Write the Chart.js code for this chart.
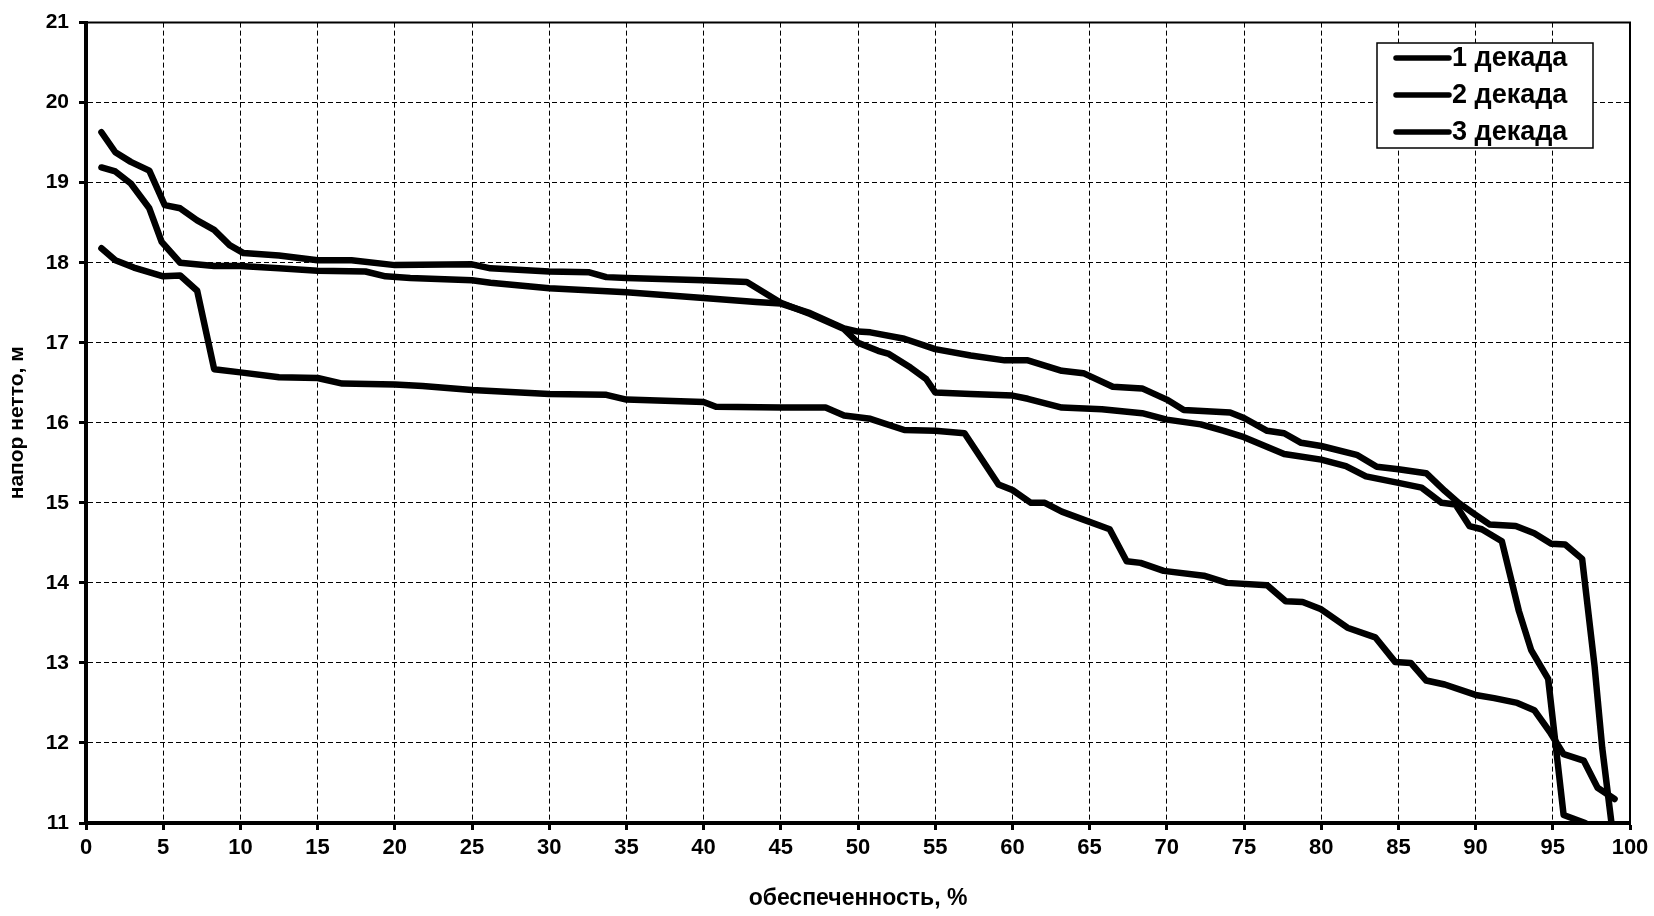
<!DOCTYPE html>
<html>
<head>
<meta charset="utf-8">
<script src="https://cdn.jsdelivr.net/npm/chart.js@4.4.0/dist/chart.umd.min.js"></script>
<style>
  html, body { margin: 0; padding: 0; background: #fff; }
  canvas { display: block; }
</style>
</head>
<body>
<canvas id="headChart" width="1654" height="916"></canvas>
<script>
// Axis ticks
const xTicks = [0, 5, 10, 15, 20, 25, 30, 35, 40, 45, 50, 55, 60, 65, 70, 75, 80, 85, 90, 95, 100];
const yTicks = [11, 12, 13, 14, 15, 16, 17, 18, 19, 20, 21];

const seriesLabels = ['1 декада', '2 декада', '3 декада'];

// [обеспеченность %, напор нетто м]
const dekada1 = [
    [1, 19.63], [1.9, 19.38], [2.9, 19.26], [4.1, 19.15], [5.1, 18.72], [6.1, 18.68],
    [7.2, 18.53], [8.3, 18.41], [9.3, 18.22], [10.2, 18.12], [12.5, 18.09], [15, 18.03],
    [17.2, 18.03], [20, 17.97], [25, 17.98], [26.2, 17.93], [30, 17.89], [32.6, 17.88],
    [33.7, 17.82], [35, 17.81], [40, 17.78], [42.8, 17.76], [45, 17.50], [46.9, 17.36],
    [49.1, 17.17], [50, 17.0], [51.3, 16.90], [52, 16.86], [53.4, 16.69], [54.4, 16.55],
    [55, 16.38], [57.3, 16.36], [60, 16.34], [61, 16.30], [63.2, 16.19], [65.8, 16.17],
    [68.4, 16.12], [70, 16.04], [72.2, 15.98], [73.7, 15.90], [75, 15.82], [77.6, 15.61],
    [80, 15.54], [81.6, 15.46], [82.9, 15.33], [85, 15.25], [86.5, 15.19], [87.8, 15.0],
    [88.7, 14.98], [89.6, 14.71], [90.4, 14.67], [91.7, 14.52], [92.8, 13.65], [93.6, 13.16],
    [94.7, 12.8], [95.7, 11.1], [97.1, 11.0]
];
const dekada2 = [
    [1, 19.19], [1.9, 19.14], [2.9, 18.99], [4.1, 18.68], [4.9, 18.26], [6.1, 18.0],
    [8.3, 17.96], [10, 17.96], [12.5, 17.93], [15, 17.90], [18.1, 17.89], [19.4, 17.83],
    [21, 17.81], [25, 17.78], [26.2, 17.75], [30, 17.68], [35, 17.63], [40, 17.56],
    [43.4, 17.51], [45, 17.49], [46.9, 17.37], [49.1, 17.18], [50, 17.14], [50.8, 17.13],
    [53, 17.05], [55, 16.92], [57.3, 16.84], [59.5, 16.78], [61, 16.78], [63.2, 16.65],
    [64.6, 16.62], [66.5, 16.45], [68.4, 16.43], [70, 16.29], [71.1, 16.16], [74.1, 16.13],
    [75, 16.06], [76.5, 15.90], [77.6, 15.87], [78.7, 15.75], [80, 15.71], [82.3, 15.60],
    [83.6, 15.45], [85, 15.42], [86.8, 15.37], [88.0, 15.15], [88.9, 15.0], [90, 14.85],
    [90.9, 14.73], [92.6, 14.71], [93.8, 14.62], [94.9, 14.49], [95.8, 14.48], [96.9, 14.30],
    [97.7, 12.97], [98.2, 11.94], [98.8, 11.0]
];
const dekada3 = [
    [1, 18.18], [1.9, 18.03], [3.1, 17.94], [5, 17.83], [6.1, 17.84], [7.2, 17.65],
    [8.3, 16.67], [10, 16.63], [12.5, 16.57], [15, 16.56], [16.6, 16.49], [20, 16.48],
    [21.8, 16.46], [25, 16.41], [30, 16.36], [33.7, 16.35], [35, 16.29], [40, 16.26],
    [40.8, 16.20], [45, 16.19], [47.9, 16.19], [49.1, 16.09], [50.8, 16.05], [53, 15.91],
    [55, 15.90], [56.9, 15.87], [59.1, 15.23], [60, 15.16], [61.2, 15.0], [62.1, 15.0],
    [63.2, 14.89], [64.6, 14.79], [66.3, 14.67], [67.4, 14.27], [68.3, 14.25], [69.8, 14.15],
    [72.4, 14.09], [73.9, 14.0], [76.5, 13.97], [77.7, 13.77], [78.8, 13.76], [80, 13.67],
    [81.7, 13.44], [83.5, 13.32], [84.8, 13.01], [85.8, 13.0], [86.8, 12.78], [88.0, 12.73],
    [90, 12.60], [91.2, 12.56], [92.7, 12.50], [93.8, 12.41], [94.8, 12.14], [95.7, 11.86],
    [97, 11.78], [97.9, 11.44], [99.0, 11.30]
];

const FONT = "'Liberation Sans', Arial, sans-serif";

function toPoints(pairs) {
    return pairs.map(p => ({ x: p[0], y: p[1] }));
}

function makeDataset(label, pairs) {
    return {
        label: label,
        data: toPoints(pairs),
        borderColor: '#000',
        backgroundColor: '#000',
        borderWidth: 6.5,
        borderJoinStyle: 'round',
        borderCapStyle: 'round',
        pointRadius: 0,
        fill: false,
        tension: 0
    };
}

// frame on top/right + legend box inside the plot
const framePlugin = {
    id: 'frameAndLegend',
    afterDatasetsDraw(chart) {
        const { ctx, chartArea } = chart;
        ctx.save();
        ctx.strokeStyle = '#000';
        ctx.lineWidth = 2;
        ctx.beginPath();
        ctx.moveTo(chartArea.left, chartArea.top);
        ctx.lineTo(chartArea.right, chartArea.top);
        ctx.lineTo(chartArea.right, chartArea.bottom);
        ctx.stroke();

        // legend
        const bx = 1377, by = 43, bw = 216, bh = 105;
        ctx.fillStyle = '#fff';
        ctx.fillRect(bx, by, bw, bh);
        ctx.lineWidth = 1.5;
        ctx.strokeRect(bx, by, bw, bh);
        chart.data.datasets.forEach((ds, i) => {
            const y = by + 15 + i * 37;
            ctx.strokeStyle = ds.borderColor;
            ctx.lineWidth = 5.5;
            ctx.lineCap = 'round';
            ctx.beginPath();
            ctx.moveTo(bx + 19, y);
            ctx.lineTo(bx + 72, y);
            ctx.stroke();
            ctx.fillStyle = '#000';
            ctx.font = 'bold 27px ' + FONT;
            ctx.textAlign = 'left';
            ctx.textBaseline = 'middle';
            ctx.fillText(ds.label, bx + 75, y + 1);
        });
        ctx.restore();
    }
};

const ctx = document.getElementById('headChart');
new Chart(ctx, {
    type: 'line',
    data: {
        datasets: [
            makeDataset(seriesLabels[0], dekada1),
            makeDataset(seriesLabels[1], dekada2),
            makeDataset(seriesLabels[2], dekada3)
        ]
    },
    options: {
        responsive: false,
        animation: false,
        devicePixelRatio: 1,
        layout: { padding: { top: 19, right: 24, left: 0, bottom: 0 } },
        plugins: {
            legend: { display: false },
            tooltip: { enabled: false }
        },
        scales: {
            x: {
                type: 'linear',
                min: 0,
                max: 100,
                afterBuildTicks: scale => { scale.ticks = xTicks.map(v => ({ value: v })); },
                afterFit: scale => { scale.height = 93; },
                ticks: {
                    color: '#000',
                    padding: 5,
                    maxRotation: 0,
                    font: { family: FONT, size: 22, weight: 'bold' }
                },
                grid: {
                    color: '#000',
                    lineWidth: 1,
                    tickLength: 7,
                    tickWidth: 3,
                    tickColor: '#000',
                    tickBorderDash: []
                },
                border: { display: true, width: 4, color: '#000', dash: [5, 3] },
                title: {
                    display: true,
                    text: 'обеспеченность, %',
                    color: '#000',
                    padding: { top: 4, bottom: 4 },
                    font: { family: FONT, size: 23, weight: 'bold' }
                }
            },
            y: {
                type: 'linear',
                min: 11,
                max: 21,
                afterBuildTicks: scale => { scale.ticks = yTicks.map(v => ({ value: v })); },
                afterFit: scale => { scale.width = 86; },
                ticks: {
                    color: '#000',
                    padding: 10,
                    font: { family: FONT, size: 21, weight: 'bold' }
                },
                grid: {
                    color: '#000',
                    lineWidth: 1,
                    tickLength: 7,
                    tickWidth: 3,
                    tickColor: '#000',
                    tickBorderDash: []
                },
                border: { display: true, width: 4, color: '#000', dash: [5, 3] },
                title: {
                    display: true,
                    text: 'напор нетто, м',
                    color: '#000',
                    padding: { top: 5, bottom: 4 },
                    font: { family: FONT, size: 21, weight: 'bold' }
                }
            }
        }
    },
    plugins: [framePlugin]
});
</script>
</body>
</html>
